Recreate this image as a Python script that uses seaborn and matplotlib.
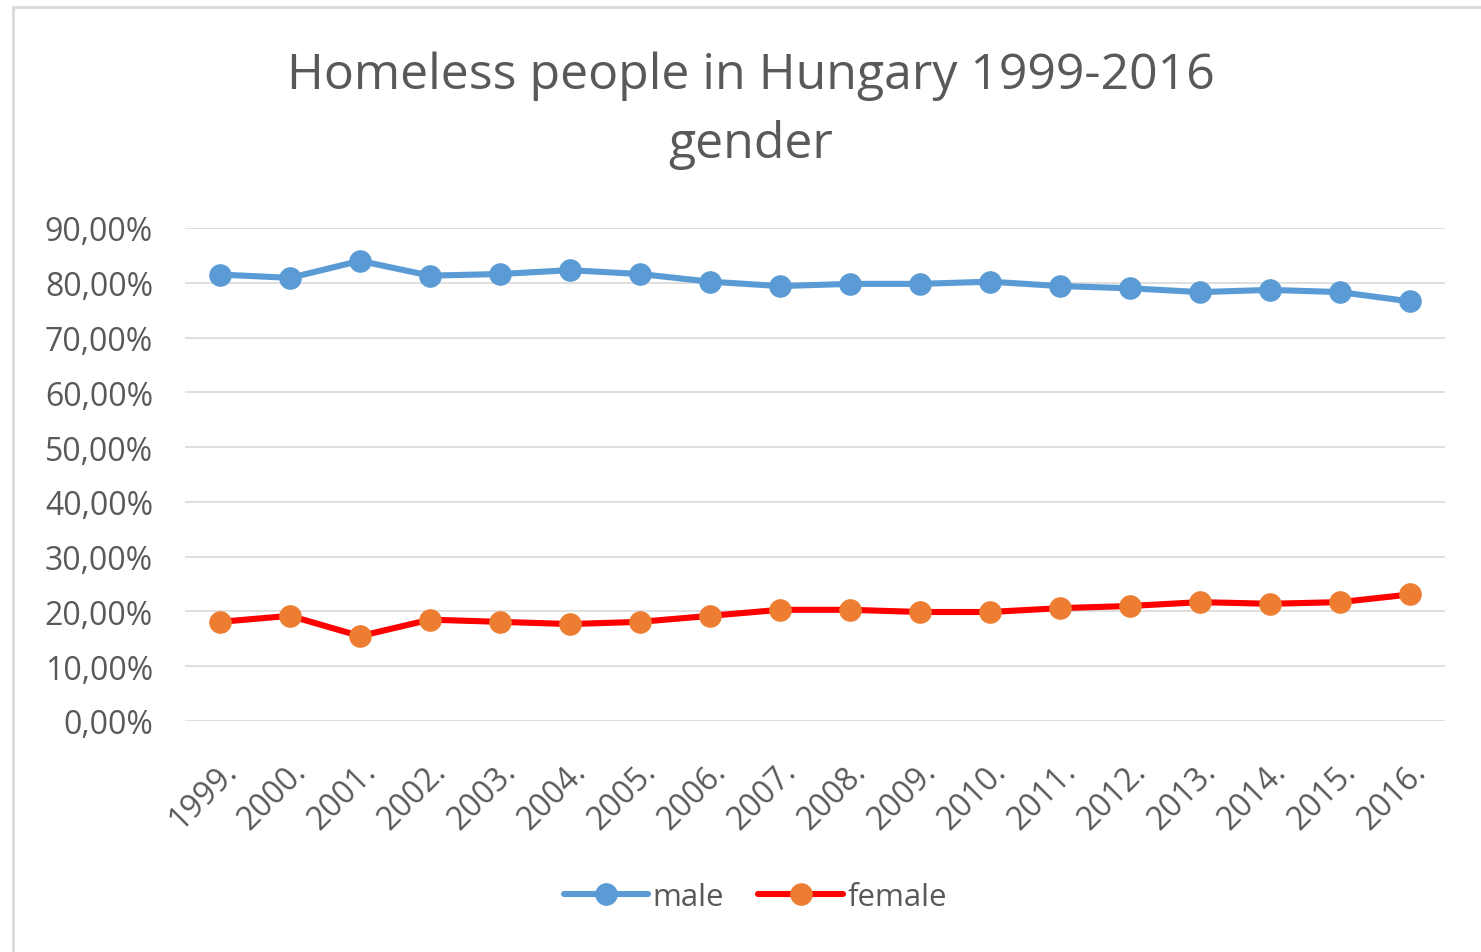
import pandas as pd
import matplotlib
matplotlib.use("Agg")
import matplotlib.pyplot as plt
import seaborn as sns
from matplotlib.patches import Rectangle

# data (percent)
years = ["1999.", "2000.", "2001.", "2002.", "2003.", "2004.", "2005.", "2006.", "2007.",
         "2008.", "2009.", "2010.", "2011.", "2012.", "2013.", "2014.", "2015.", "2016."]
male = [81.5, 80.9, 84.0, 81.3, 81.6, 82.3, 81.6, 80.2, 79.4,
        79.8, 79.8, 80.2, 79.4, 79.0, 78.3, 78.7, 78.3, 76.6]
female = [18.1, 19.2, 15.5, 18.5, 18.1, 17.7, 18.1, 19.2, 20.3,
          20.3, 19.9, 19.9, 20.6, 21.0, 21.7, 21.4, 21.7, 23.1]

df = pd.DataFrame({"pos": range(len(years)), "year": years, "male": male, "female": female})

sns.set_theme(style="white")
plt.rcParams["font.family"] = ["Open Sans", "DejaVu Sans"]

fig = plt.figure(figsize=(14.81, 9.53), dpi=100)
ax = fig.add_axes([185 / 1481, 1 - 722 / 953, (1445 - 185) / 1481, (722 - 229) / 953])

sns.lineplot(data=df, x="pos", y="male", ax=ax, color="#5B9BD5", linewidth=4.4,
             marker="o", markersize=15.5, markerfacecolor="#5B9BD5",
             markeredgecolor="#5B9BD5", label="male")
sns.lineplot(data=df, x="pos", y="female", ax=ax, color="#FF0000", linewidth=4.4,
             marker="o", markersize=15.5, markerfacecolor="#ED7D31",
             markeredgecolor="#ED7D31", label="female")

ax.set_xlim(-0.5, len(years) - 0.5)
ax.set_ylim(0, 90)
ax.set_yticks(range(0, 91, 10))
ax.set_yticklabels([f"{v},00%" for v in range(0, 91, 10)])
ax.set_xticks(range(len(years)))
ax.set_xticklabels(years, rotation=45, ha="right", rotation_mode="anchor")
ax.tick_params(axis="both", length=0, labelsize=23, labelcolor="#595959")
ax.tick_params(axis="y", pad=23)
ax.tick_params(axis="x", pad=24)
ax.grid(axis="y", color="#D9D9D9", linewidth=1.2)
ax.set_axisbelow(True)
for s in ax.spines.values():
    s.set_visible(False)
ax.set_xlabel("")
ax.set_ylabel("")

ax.get_legend().remove()
handles, labels = ax.get_legend_handles_labels()
fig.legend(handles, labels, loc="center", bbox_to_anchor=(0.51, 1 - 898 / 953), ncol=2,
           frameon=False, fontsize=22.5, handlelength=2.7, columnspacing=1.1,
           handletextpad=0.15, labelcolor="#595959")

fig.text(0.507, 1 - 76 / 953, "Homeless people in Hungary 1999-2016", ha="center", va="center",
         fontsize=36, color="#595959")
fig.text(0.507, 1 - 145 / 953, "gender", ha="center", va="center",
         fontsize=36, color="#595959")

fig.patches.append(Rectangle((13 / 1481, -0.01), 1.1, 1 - 8 / 953 + 0.01, transform=fig.transFigure,
                             fill=False, edgecolor="#D9D9D9", linewidth=2))

fig.savefig("out.png", dpi=100)
